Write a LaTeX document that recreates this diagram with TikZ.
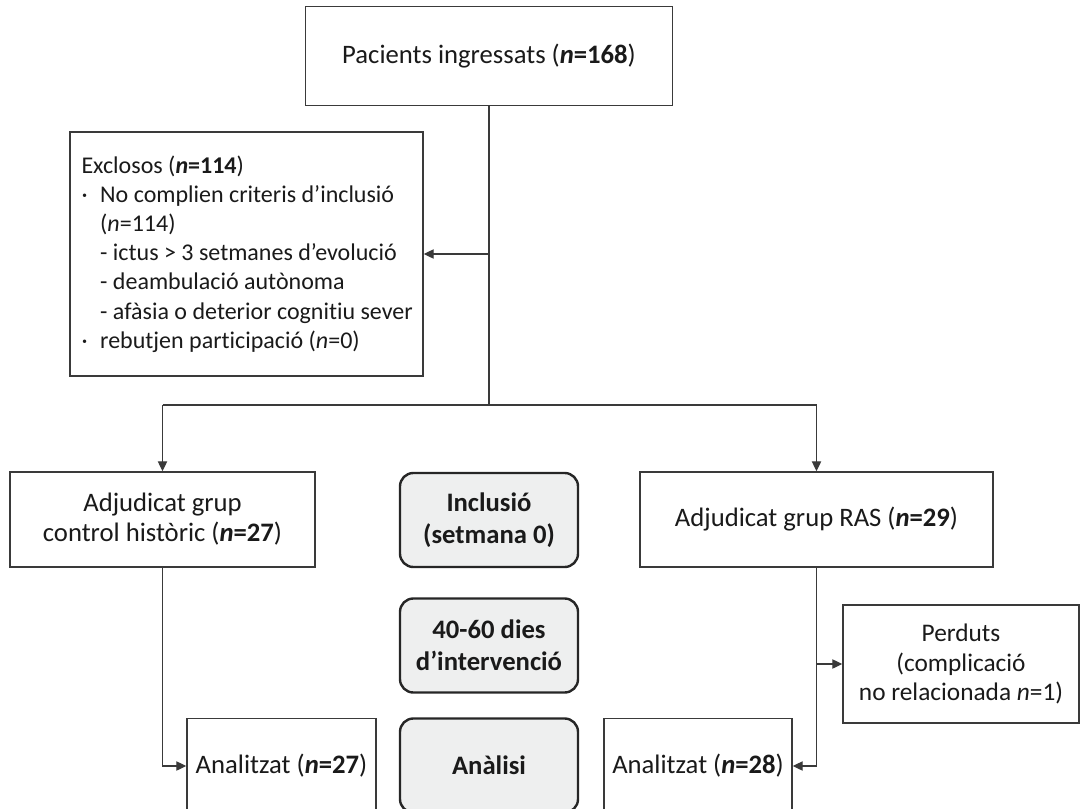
\documentclass[tikz,border=0pt]{standalone}
\usepackage{fontspec}
\setmainfont{Carlito}[Ligatures={NoCommon}]
\usetikzlibrary{arrows.meta}
\definecolor{lineC}{HTML}{3A3A3A}
\definecolor{grayfill}{HTML}{EEEFEF}
\definecolor{txt}{HTML}{1A1A1A}
\newcommand{\nb}[1]{\textbf{\textit{n}=#1}}
\newcommand{\bul}{\makebox[0.78em][l]{·}}
\newcommand{\ind}{\hspace*{0.78em}}
\begin{document}
\begin{tikzpicture}[x=0.75pt,y=-0.75pt,
  font=\fontsize{20}{22}\selectfont, text=txt,
  wbox/.style={draw=lineC, line width=1.1pt, fill=white, rectangle, align=center, inner sep=4pt},
  gbox/.style={draw=black!85, line width=1.8pt, fill=grayfill, rounded corners=10pt, align=center, inner sep=4pt, font=\fontsize{20}{24}\selectfont\bfseries, minimum width=133.5pt, minimum height=70.5pt},
  conn/.style={draw=lineC, line width=0.9pt},
  arr/.style={conn, -{Triangle[length=7.5pt,width=7pt]}}]
\useasboundingbox (0,0) rectangle (1080,809);
\clip (0,0) rectangle (1080,809);

\node[wbox, minimum width=275.25pt, minimum height=74.25pt] (top) at (489,56) {Pacients ingressats (\nb{168})};

\node[wbox, minimum width=264.75pt, minimum height=183pt, align=flush left, text width=247.5pt, inner sep=0pt, font=\fontsize{18}{21.9}\selectfont] (excl) at (246.5,254) {%
\mbox{Exclosos (\nb{114})}\\
\mbox{\bul No complien criteris d’inclusió}\\
\mbox{\ind(\textit{n}=114)}\\
\mbox{\ind- ictus > 3 setmanes d’evolució}\\
\mbox{\ind- deambulació autònoma}\\
\mbox{\ind- afàsia o deterior cognitiu sever}\\
\mbox{\bul rebutjen participació (\textit{n}=0)}};

\coordinate (split) at (489,405);

\node[wbox, minimum width=228.75pt, minimum height=71.25pt, font=\fontsize{20}{22.5}\selectfont] (left) at (162.5,519.5) {Adjudicat grup\\control històric (\nb{27})};
\node[wbox, minimum width=264.75pt, minimum height=71.25pt] (right) at (816.5,519.5) {Adjudicat grup RAS (\nb{29})};

\node[gbox] (incl) at (489,520) {Inclusió\\(setmana 0)};
\node[gbox] (dies) at (489,645.5) {40-60 dies\\d’intervenció};
\node[gbox] (anal) at (489,765.5) {Anàlisi};

\node[wbox, minimum width=141.75pt, minimum height=71.25pt] (anL) at (281.5,766) {Analitzat (\nb{27})};
\node[wbox, minimum width=141pt, minimum height=71.25pt] (anR) at (698,766) {Analitzat (\nb{28})};
\node[wbox, minimum width=177pt, minimum height=88.5pt, font=\fontsize{19}{22}\selectfont] (perd) at (961,664) {Perduts\\(complicació\\no relacionada \textit{n}=1)};

\draw[conn] (top.south) -- (split);
\draw[arr] (top.south |- excl.east) -- (excl.east);
\draw[conn] (left.north |- split) -- (right.north |- split);
\draw[arr] (left.north |- split) -- (left.north);
\draw[arr] (right.north |- split) -- (right.north);
\draw[arr] (left.south) |- (anL.west);
\draw[arr] (right.south) |- (anR.east);
\draw[arr] (right.south |- perd.west) -- (perd.west);
\end{tikzpicture}
\end{document}
